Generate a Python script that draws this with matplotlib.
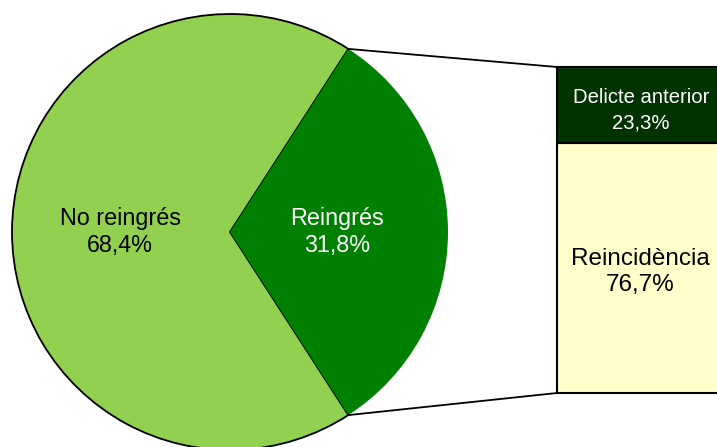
import numpy as np
import matplotlib.pyplot as plt

plt.rcParams['font.family'] = ['Liberation Sans', 'DejaVu Sans']

# pie data
pie_labels = ['Reingrés', 'No reingrés']
pie_values = [31.8, 68.4]
pie_colors = ['#008000', '#92D050']

# bar (breakdown of Reingrés)
bar_labels = ['Reincidència', 'Delicte anterior']
bar_values = [76.7, 23.3]
bar_colors = ['#FFFFCC', '#003300']

fig = plt.figure(figsize=(7.17, 4.47), dpi=100)
ax = fig.add_axes([0, 0, 1, 1])

cx, cy, r = 230, 447 - 232, 218
span = pie_values[0] / sum(pie_values) * 360
wedges, _ = ax.pie(pie_values, colors=pie_colors, startangle=-span / 2,
                   center=(cx, cy), radius=r, frame=True)
wedges[1].set_edgecolor('black')
wedges[1].set_linewidth(1.3)
wedges[0].set_zorder(3)
wedges[1].set_zorder(2)

# stacked bar
bar_left, bar_w = 557, 180
bar_bottom, bar_h = 447 - 393, 393 - 67
bottom = bar_bottom
for v, c in zip(bar_values, bar_colors):
    h = v / sum(bar_values) * bar_h
    ax.bar(bar_left, h, width=bar_w, bottom=bottom, align='edge', color=c,
           edgecolor='black', linewidth=1.5, zorder=3)
    bottom += h

# connector lines
t1, t2 = np.radians(wedges[0].theta1), np.radians(wedges[0].theta2)
p_low = (cx + r * np.cos(t1), cy + r * np.sin(t1))
p_up = (cx + r * np.cos(t2), cy + r * np.sin(t2))
ax.plot([p_up[0], bar_left], [p_up[1], bar_bottom + bar_h], color='black', lw=1.3, zorder=4)
ax.plot([p_low[0], bar_left], [p_low[1], bar_bottom], color='black', lw=1.3, zorder=4)

# labels
ax.text(120, 447 - 232, 'No reingrés\n68,4%', ha='center', va='center',
        fontsize=16.8, color='black', zorder=5, linespacing=1.25)
ax.text(337, 447 - 232, 'Reingrés\n31,8%', ha='center', va='center',
        fontsize=16.8, color='white', zorder=5, linespacing=1.25)
ax.text(641, 447 - 110, 'Delicte anterior\n23,3%', ha='center', va='center',
        fontsize=14.6, color='white', zorder=5, linespacing=1.45)
ax.text(640, 447 - 272, 'Reincidència\n76,7%', ha='center', va='center',
        fontsize=17.5, color='black', zorder=5, linespacing=1.25)

ax.set_xlim(0, 717)
ax.set_ylim(0, 447)
ax.set_aspect('auto')
ax.axis('off')

fig.savefig('out.png', dpi=100)
